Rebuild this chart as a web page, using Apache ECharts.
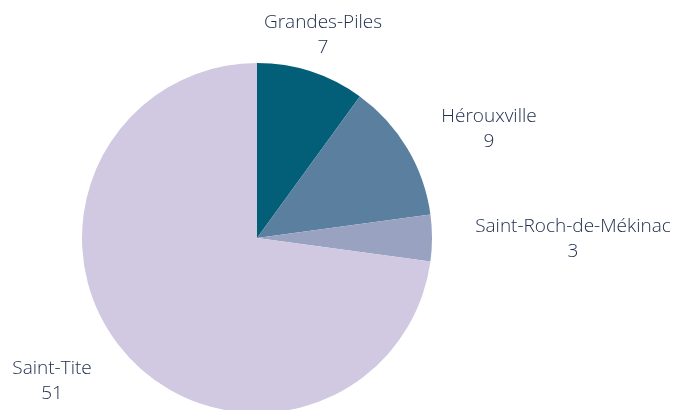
<!DOCTYPE html>
<html>
<head>
<meta charset="utf-8">
<script src="https://cdn.jsdelivr.net/npm/echarts@6/dist/echarts.min.js"></script>
<style>
  html, body { margin: 0; padding: 0; background: #fff; }
  #chart { width: 677px; height: 410px; }
</style>
</head>
<body>
<div id="chart"></div>
<script>
const names = ['Grandes-Piles', 'Hérouxville', 'Saint-Roch-de-Mékinac', 'Saint-Tite'];
const values = [7, 9, 3, 51];
const colors = ['#035e78', '#5a7f9f', '#9aa2c1', '#d0c9e1'];

// label anchors (centre of each label block), tuned to the reference
const labelPos = [[323, 35], [489, 129], [573, 239], [52, 381]];

const chart = echarts.init(document.getElementById('chart'));

chart.setOption({
  animation: false,
  series: [{
    type: 'pie',
    center: [257, 238],
    radius: 175,
    startAngle: 90,
    clockwise: true,
    data: names.map((n, i) => ({ name: n, value: values[i], itemStyle: { color: colors[i] } })),
    label: {
      show: true,
      position: 'outside',
      formatter: '{b}\n{c}',
      fontFamily: 'Open Sans',
      fontWeight: 300,
      fontSize: 19,
      lineHeight: 25,
      color: '#22304f',
      overflow: 'none',
      edgeDistance: 0,
      bleedMargin: 0
    },
    labelLine: { show: false },
    labelLayout: function (params) {
      const p = labelPos[params.dataIndex];
      return { x: p[0], y: p[1], align: 'center', verticalAlign: 'middle' };
    },
    emphasis: { disabled: true }
  }]
});
</script>
</body>
</html>
